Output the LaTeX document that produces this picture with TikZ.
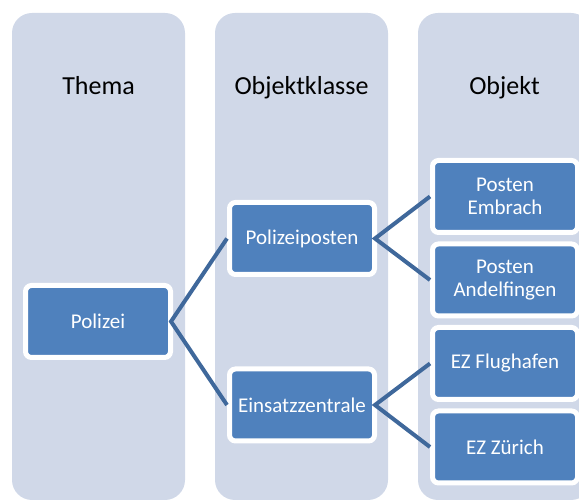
\documentclass[tikz,border=0pt]{standalone}
\usepackage{fontspec}
\setmainfont{Carlito}
\definecolor{colfill}{HTML}{D0D8E8}
\definecolor{boxfill}{HTML}{4F81BD}
\definecolor{linkcol}{HTML}{3F689B}
\tikzset{
  column/.style={fill=colfill, rounded corners=20pt},
  header/.style={anchor=base, font=\fontsize{26}{30}\selectfont, text=black},
  itembox/.style={draw=white, line width=5pt, fill=boxfill, rounded corners=6pt,
    minimum width=145pt, minimum height=72pt, inner sep=0pt, text=white,
    align=center, font=\fontsize{21}{23}\selectfont},
  link/.style={draw=linkcol, line width=4pt}
}
\begin{document}
\begin{tikzpicture}[x=1pt,y=-1pt]
\useasboundingbox (0,0) rectangle (579,502);
\begin{scope}
\clip (0,0) rectangle (579,502);
\fill[column] (12,13) rectangle (185,500);
\fill[column] (215,13) rectangle (388,500);
\fill[column] (418,13) rectangle (591,500);
\end{scope}
\node[header] (h1) at (98.5,95) {Thema};
\node[header] (h2) at (301.5,95) {Objektklasse};
\node[header] (h3) at (504.5,95) {Objekt};
\node[itembox] (pol) at (98,321.5) {Polizei};
\node[itembox] (pp) at (302,238.5) {Polizeiposten};
\node[itembox] (ez) at (302,405) {Einsatzzentrale};
\node[itembox] (pe) at (505,196.5) {Posten\\Embrach};
\node[itembox] (pa) at (505,280) {Posten\\Andelfingen};
\node[itembox] (ef) at (505,363.5) {EZ Flughafen};
\node[itembox] (ezz) at (505,447) {EZ Zürich};
\draw[link] (pp.west) -- ([xshift=-2pt]pol.east) -- (ez.west);
\draw[link] (pe.west) -- ([xshift=-2pt]pp.east) -- (pa.west);
\draw[link] (ef.west) -- ([xshift=-2pt]ez.east) -- (ezz.west);
\end{tikzpicture}
\end{document}
